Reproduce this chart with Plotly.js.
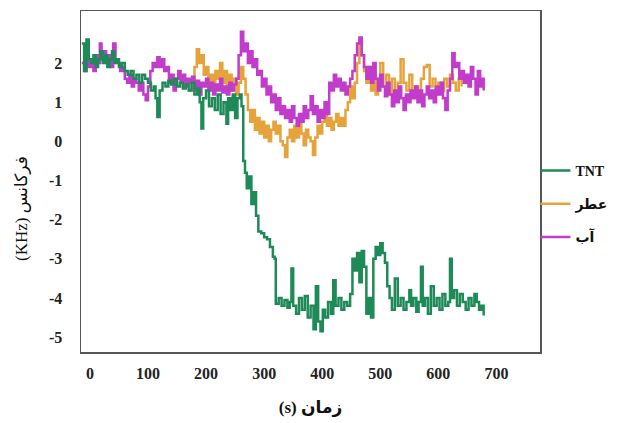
<!DOCTYPE html>
<html>
<head>
<meta charset="utf-8">
<script src="https://cdn.plot.ly/plotly-3.0.1.min.js"></script>
<style>html,body{margin:0;padding:0;background:#fff;}#chart{width:643px;height:423px;}</style>
</head>
<body>
<div id="chart"></div>
<script>
// Series names
const seriesNames = ["TNT", "عطر", "آب"];

// TNT (green)
const tntX = [-14,-10,-6,-2,2,6,10,14,18,22,26,30,34,38,42,46,50,55,60,65,70,75,80,85,90,95,100,105,110,113,116,120,125,130,135,140,145,150,155,160,165,170,175,180,185,189,192,195,200,205,210,215,220,225,230,235,238,242,246,250,254,258,261,264,267,270,274,278,282,286,290,295,300,305,310,315,318,320,325,330,335,340,344,347,350,355,360,365,370,375,380,385,389,393,397,401,405,410,415,419,423,428,433,438,443,448,452,456,460,464,468,472,476,480,484,488,492,496,500,504,508,512,516,520,525,530,535,540,545,550,553,557,562,566,570,573,577,582,587,592,597,602,607,612,617,620,623,627,632,637,642,647,652,657,662,666,670,674,678];
const tntY = [2.5,1.8,2.6,2.1,2.0,2.2,1.9,2.1,2.3,2.0,2.2,1.9,2.1,2.3,2.0,2.1,1.9,2.0,1.8,1.7,1.8,1.6,1.7,1.5,1.7,1.6,1.5,1.3,1.4,1.1,0.62,1.3,1.5,1.4,1.55,1.45,1.6,1.4,1.5,1.35,1.45,1.3,1.5,1.2,1.35,1.0,0.33,1.1,1.3,0.9,1.1,0.8,1.2,0.7,1.0,0.45,1.1,0.8,1.2,0.6,1.1,1.2,0.9,-0.5,-0.8,-1.2,-0.9,-1.6,-1.3,-1.9,-2.3,-2.35,-2.45,-2.5,-2.7,-2.95,-3.0,-4.15,-4.0,-4.2,-4.05,-4.25,-4.1,-3.25,-4.2,-4.4,-4.0,-4.3,-3.95,-4.5,-4.2,-4.8,-3.7,-4.6,-4.85,-4.3,-4.5,-4.1,-4.4,-3.55,-4.2,-4.0,-4.3,-4.1,-4.2,-3.9,-3.0,-3.3,-2.85,-3.6,-2.8,-3.2,-4.4,-4.0,-4.5,-3.0,-2.7,-2.9,-2.6,-2.85,-3.1,-3.7,-4.0,-4.3,-3.5,-4.2,-4.0,-4.3,-4.1,-3.8,-4.2,-4.0,-4.35,-4.1,-3.2,-4.2,-4.0,-4.4,-3.7,-4.2,-4.0,-4.3,-3.9,-4.2,-4.1,-3.0,-4.0,-3.8,-4.2,-3.9,-4.1,-4.3,-4.0,-4.2,-3.9,-4.1,-4.3,-4.2,-4.45];

// عطر (orange)
const perfumeX = [170,175,180,184,188,192,196,200,204,208,212,216,220,224,228,232,236,240,244,248,252,256,260,264,268,272,276,280,284,288,292,296,300,304,308,312,316,320,324,328,332,336,340,344,348,352,356,360,364,368,372,376,380,384,388,392,396,400,404,408,412,416,420,424,428,432,436,440,444,448,452,456,460,464,468,472,476,480,484,488,492,496,500,505,510,515,520,525,530,535,540,545,550,555,560,565,570,575,580,585,590,595,600,605,610,615,620,625,630,635,640];
const perfumeY = [1.3,1.6,1.9,2.35,2.0,2.2,1.7,1.9,1.5,1.7,1.4,1.8,1.6,2.0,1.5,1.8,1.4,1.7,1.3,1.6,1.2,1.5,1.9,1.6,1.2,0.8,0.5,0.8,0.3,0.6,0.2,0.5,0.1,0.4,0.0,0.3,0.5,0.2,0.4,0.0,-0.1,-0.4,0.1,0.3,0.0,0.4,0.1,0.5,0.2,-0.1,0.3,0.1,0.0,-0.35,0.1,0.4,0.2,0.5,0.7,0.4,0.6,0.3,0.5,0.7,0.4,0.6,0.4,0.8,1.0,1.4,1.1,1.5,2.0,2.6,2.2,1.8,1.5,1.9,1.3,1.7,1.2,1.6,2.0,1.4,1.7,1.2,1.6,1.1,1.5,2.1,1.5,1.3,1.7,1.2,1.4,1.1,1.6,1.9,1.95,1.4,1.6,1.2,1.5,1.3,1.6,1.4,1.7,1.5,1.3,1.6,1.4];

// آب (purple)
const waterX = [-14,-10,-6,-2,2,6,10,14,17,20,24,28,32,36,40,44,48,52,56,60,64,68,72,76,80,84,88,92,96,100,104,108,112,116,120,124,128,132,136,140,144,148,152,156,160,164,168,172,176,180,184,188,192,196,200,204,208,212,216,220,224,228,232,236,240,244,248,252,256,260,264,268,272,276,280,284,288,292,296,300,304,308,312,316,320,324,328,332,336,340,344,348,352,356,360,364,368,372,376,380,384,388,392,396,400,404,408,412,416,420,424,428,432,436,440,444,448,452,456,460,464,468,472,476,480,484,488,492,496,500,504,508,512,516,520,524,528,532,536,540,544,548,552,556,560,564,568,572,576,580,584,588,592,596,600,604,608,612,616,620,624,628,632,636,640,644,648,652,656,660,664,668,672,676,678];
const waterY = [2.0,1.8,2.2,1.9,2.1,1.8,2.2,2.0,2.5,2.1,2.3,2.0,2.2,1.9,2.5,2.1,2.0,1.8,1.9,1.6,1.5,1.7,1.4,1.6,1.5,1.3,1.5,1.2,1.05,1.4,1.8,2.0,1.9,2.15,1.9,2.1,1.8,1.9,1.5,1.7,1.3,1.6,1.8,1.5,1.7,1.4,1.6,1.5,1.65,1.3,1.55,1.2,1.5,1.4,1.6,1.3,1.5,1.2,1.45,1.3,1.6,1.25,1.4,1.2,1.5,1.3,1.45,1.6,2.2,2.8,2.3,2.5,2.0,2.3,1.9,2.1,1.7,1.8,1.4,1.6,1.2,1.4,1.0,1.2,0.8,1.1,0.7,0.9,0.6,0.8,0.5,0.9,0.6,0.4,0.7,0.5,0.9,0.6,0.8,1.15,0.7,0.9,0.5,0.8,0.6,1.0,0.7,1.5,1.3,1.7,1.4,1.6,1.3,1.5,1.2,1.4,1.6,1.8,2.2,2.5,2.65,2.2,1.9,1.6,1.9,1.5,2.0,1.6,1.3,1.7,1.4,1.15,1.5,1.2,0.9,1.3,1.0,1.4,1.1,0.8,1.2,1.0,1.3,1.1,1.4,1.0,1.3,0.9,1.2,1.4,1.1,1.3,1.0,1.4,1.2,1.5,1.1,0.8,1.3,1.6,2.25,1.9,2.0,1.6,1.8,1.5,1.7,1.4,1.9,1.6,1.2,1.8,1.4,1.6,1.3];

// Axis ticks
const xTickVals = [0,100,200,300,400,500,600,700];
const xTickText = ["0","100","200","300","400","500","600","700"];
const yTickVals = [2,1,0,-1,-2,-3,-4,-5];
const yTickText = ["2","1","0","-1","-2","-3","-4","-5"];

const colors = ["#1e8a58", "#e6a33c", "#c23ccb"];
const serif = "Liberation Serif, Times New Roman, DejaVu Serif, serif";
const arabicFont = "DejaVu Sans, Noto Sans, sans-serif";

function mk(x, y, i, rank) {
  return {
    x: x, y: y, type: "scatter", mode: "lines",
    name: "<b>" + seriesNames[i] + "</b>",
    line: {color: colors[i], width: 2.5, shape: "hv"},
    legendgroup: "g" + i, legendrank: rank
  };
}

const data = [
  mk(perfumeX, perfumeY, 1, 2),
  mk(waterX, waterY, 2, 3),
  mk(tntX, tntY, 0, 1)
];

const layout = {
  width: 643, height: 423,
  margin: {l: 81, r: 103, t: 11, b: 71},
  paper_bgcolor: "#ffffff", plot_bgcolor: "#ffffff",
  showlegend: true,
  legend: {
    x: 0.99, y: 0.578, xanchor: "left", yanchor: "top",
    font: {family: serif + ", " + arabicFont, size: 14, color: "#111"},
    tracegroupgap: 12, itemwidth: 30, bgcolor: "rgba(0,0,0,0)",
    traceorder: "grouped"
  },
  xaxis: {
    range: [-15.4, 775], tickvals: xTickVals, ticktext: xTickText,
    showgrid: false, zeroline: false, showline: true, mirror: true,
    linecolor: "#555", linewidth: 1.5, ticks: "",
    ticklabelstandoff: 6,
    tickfont: {family: serif, size: 16, color: "#222", weight: "bold"},
    title: {text: "<b>(s) زمان</b>", font: {family: serif + ", " + arabicFont, size: 17, color: "#111"}, standoff: 20}
  },
  yaxis: {
    range: [-5.38, 3.33], tickvals: yTickVals, ticktext: yTickText,
    showgrid: false, zeroline: false, showline: true, mirror: true,
    linecolor: "#555", linewidth: 1.5, ticks: "",
    ticklabelstandoff: 14,
    tickfont: {family: serif, size: 16, color: "#222", weight: "bold"}
  },
  annotations: [{
    text: "(KHz) فرکانس", textangle: -90,
    xref: "paper", yref: "paper", x: -0.128, y: 0.42,
    xanchor: "center", yanchor: "middle", showarrow: false,
    font: {family: serif + ", " + arabicFont, size: 17, color: "#111"}
  }]
};

Plotly.newPlot("chart", data, layout, {staticPlot: true, displayModeBar: false});
</script>
</body>
</html>
